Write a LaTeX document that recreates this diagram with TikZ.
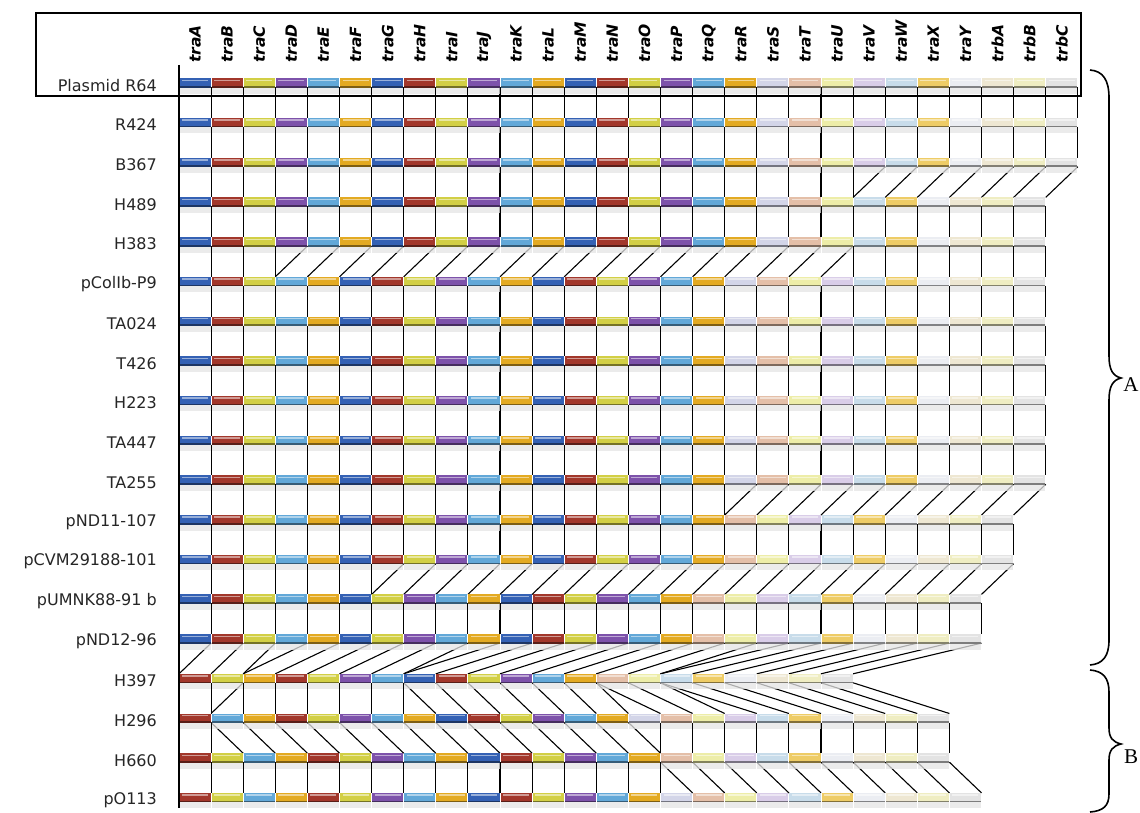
\documentclass[tikz,border=0pt]{standalone}
\usepackage{fontspec}
\setmainfont{DejaVu Sans}
\newfontfamily\serifLab{Liberation Serif}
\definecolor{cBlue}{HTML}{3461B4}
\definecolor{cRed}{HTML}{A2372B}
\definecolor{cYel}{HTML}{D2CF45}
\definecolor{cPur}{HTML}{7D52AA}
\definecolor{cLbl}{HTML}{62A8D8}
\definecolor{cGold}{HTML}{E3AA22}
\colorlet{g0}{cBlue}\colorlet{g1}{cRed}\colorlet{g2}{cYel}\colorlet{g3}{cPur}\colorlet{g4}{cLbl}\colorlet{g5}{cGold}
\colorlet{g6}{cBlue}\colorlet{g7}{cRed}\colorlet{g8}{cYel}\colorlet{g9}{cPur}\colorlet{g10}{cLbl}\colorlet{g11}{cGold}
\colorlet{g12}{cBlue}\colorlet{g13}{cRed}\colorlet{g14}{cYel}\colorlet{g15}{cPur}\colorlet{g16}{cLbl}\colorlet{g17}{cGold}
\definecolor{g18}{HTML}{D3D5E8}
\definecolor{g19}{HTML}{E4BFA8}
\definecolor{g20}{HTML}{EDEDA8}
\definecolor{g21}{HTML}{D9CDE8}
\definecolor{g22}{HTML}{C8DCEA}
\definecolor{g23}{HTML}{EECC66}
\definecolor{g24}{HTML}{EBEDF2}
\definecolor{g25}{HTML}{EEE7D2}
\definecolor{g26}{HTML}{EFEDC2}
\definecolor{g27}{HTML}{E3E3E3}
\tikzset{
  link/.style={line width=1.1pt, black},
  hdr/.style={rotate=90, anchor=west, inner sep=0pt, font=\fontsize{15.5}{17}\selectfont\bfseries\itshape},
  rowlab/.style={anchor=east, inner sep=0pt, text=black!85, font=\fontsize{16}{18}\selectfont},
  brace/.style={line width=1.6pt, black},
  brlab/.style={inner sep=0pt, font=\serifLab\fontsize{21}{24}\selectfont}
}
\newcommand{\genebar}[3]{%
  \pgfmathsetmacro\xl{179+32.1*#1}%
  \pgfmathsetmacro\yc{83.3+39.7*#2}%
  \colorlet{curc}{g#3}%
  \fill[black!10, opacity=0.75] (\xl+0.5,\yc+4.5) rectangle (\xl+31.6,\yc+10.5);
  \fill[curc] (\xl+0.5,\yc-5) rectangle (\xl+31.6,\yc+4.5);
  \fill[curc!55!black] (\xl+0.5,\yc+2.8) rectangle (\xl+31.6,\yc+4.5);
  \fill[white, opacity=0.5] (\xl+3,\yc-3.6) rectangle (\xl+29,\yc-2.1);
}
\newcommand{\drawrow}[2]{\foreach \g [count=\c from 0] in {#2} {\genebar{\c}{#1}{\g}}}
\newcommand{\lk}[3]{\draw[link] ({179+32.1*#2},{83.3+39.7*#1+4}) -- ({179+32.1*#3},{83.3+39.7*#1+39.7-5});}
\newcommand{\vlinks}[3]{\foreach \k in {#2,...,#3} {\lk{#1}{\k}{\k}}}
\newcommand{\dlinks}[4]{\foreach \k in {#2,...,#3} {\pgfmathtruncatemacro\kk{\k+#4}\lk{#1}{\kk}{\k}}}
\newcommand{\plinks}[2]{\foreach \u/\l in {#2} {\lk{#1}{\u}{\l}}}
\begin{document}
\begin{tikzpicture}[x=1pt,y=-1pt]
\useasboundingbox (0,0) rectangle (1140,813);
\fill[white] (0,0) rectangle (1140,813);
% header box
\draw[line width=1.8pt] (36,13) rectangle (1081,96);
% header labels
\foreach \t [count=\k from 0] in {traA,traB,traC,traD,traE,traF,traG,traH,traI,traJ,traK,traL,traM,traN,traO,traP,traQ,traR,traS,traT,traU,traV,traW,traX,traY,trbA,trbB,trbC}
  {\node[hdr] (h\k) at ({179+32.1*(\k+0.5)},63) {\t};}
% row labels
\foreach \r/\t in {0/Plasmid R64,1/R424,2/B367,3/H489,4/H383,5/pColIb-P9,6/TA024,7/T426,8/H223,9/TA447,10/TA255,11/pND11-107,12/pCVM29188-101,13/pUMNK88-91 b,14/pND12-96,15/H397,16/H296,17/H660,18/pO113}
  {\node[rowlab] (lab\r) at (157,{83.3+39.7*\r+2}) {\t};}
% left axis
\draw[link] (179,65) -- (179,808);
% connectors
\vlinks{0}{0}{28}
\vlinks{1}{0}{28}
\vlinks{2}{0}{21}\dlinks{2}{21}{27}{1}
\vlinks{3}{0}{27}
\vlinks{4}{0}{3}\dlinks{4}{3}{20}{1}\vlinks{4}{21}{27}
\vlinks{5}{0}{27}
\vlinks{6}{0}{27}
\vlinks{7}{0}{27}
\vlinks{8}{0}{27}
\vlinks{9}{0}{27}
\vlinks{10}{0}{17}\dlinks{10}{17}{26}{1}
\vlinks{11}{0}{26}
\vlinks{12}{0}{6}\dlinks{12}{6}{25}{1}
\vlinks{13}{0}{25}
\plinks{14}{1/0,2/1,3/2,4/2,5/3,6/4,7/5,8/6,9/7,10/7,11/8,12/9,13/10,14/11,15/12,16/13,17/14,18/15,19/15,20/16,21/17,22/18,23/19,24/20,25/21}
\plinks{15}{0/0,1/1,2/1,2/2,3/3,4/4,5/5,6/6,7/7,7/8,8/9,9/10,10/11,11/12,12/13,13/14,13/15,14/16,15/17,15/18,16/19,17/20,18/21,19/22,20/23,21/24}
\vlinks{16}{0}{1}\dlinks{16}{2}{15}{-1}\vlinks{16}{15}{24}
\vlinks{17}{0}{15}\dlinks{17}{16}{25}{-1}
% gene bars
\drawrow{0}{0,1,2,3,4,5,6,7,8,9,10,11,12,13,14,15,16,17,18,19,20,21,22,23,24,25,26,27}
\drawrow{1}{0,1,2,3,4,5,6,7,8,9,10,11,12,13,14,15,16,17,18,19,20,21,22,23,24,25,26,27}
\drawrow{2}{0,1,2,3,4,5,6,7,8,9,10,11,12,13,14,15,16,17,18,19,20,21,22,23,24,25,26,27}
\drawrow{3}{0,1,2,3,4,5,6,7,8,9,10,11,12,13,14,15,16,17,18,19,20,22,23,24,25,26,27}
\drawrow{4}{0,1,2,3,4,5,6,7,8,9,10,11,12,13,14,15,16,17,18,19,20,22,23,24,25,26,27}
\foreach \r in {5,...,10}{\drawrow{\r}{0,1,2,4,5,6,7,8,9,10,11,12,13,14,15,16,17,18,19,20,21,22,23,24,25,26,27}}
\foreach \r in {11,12}{\drawrow{\r}{0,1,2,4,5,6,7,8,9,10,11,12,13,14,15,16,17,19,20,21,22,23,24,25,26,27}}
\foreach \r in {13,14}{\drawrow{\r}{0,1,2,4,5,6,8,9,10,11,12,13,14,15,16,17,19,20,21,22,23,24,25,26,27}}
\drawrow{15}{1,2,5,7,8,9,10,12,13,14,15,16,17,19,20,22,23,24,25,26,27}
\drawrow{16}{1,4,5,7,8,9,10,11,12,13,14,15,16,17,18,19,20,21,22,23,24,25,26,27}
\drawrow{17}{1,2,4,5,7,8,9,10,11,12,13,14,15,16,17,19,20,21,22,23,24,25,26,27}
\drawrow{18}{1,2,4,5,7,8,9,10,11,12,13,14,15,16,17,18,19,20,21,22,23,24,25,26,27}
% braces
\draw[brace] (1090,70) .. controls (1103,71) and (1109,80) .. (1109,98) -- (1109,356) .. controls (1109,370) and (1113,376) .. (1121,378) .. controls (1113,380) and (1109,386) .. (1109,400) -- (1109,640) .. controls (1109,656) and (1103,664) .. (1090,665);
\draw[brace] (1090,670) .. controls (1103,671) and (1109,678) .. (1109,692) -- (1109,728) .. controls (1109,738) and (1113,742) .. (1121,744) .. controls (1113,746) and (1109,750) .. (1109,760) -- (1109,794) .. controls (1109,806) and (1103,811) .. (1090,812);
\node[brlab] (bA) at (1131,385) {A};
\node[brlab] (bB) at (1131,757) {B};
\end{tikzpicture}
\end{document}
